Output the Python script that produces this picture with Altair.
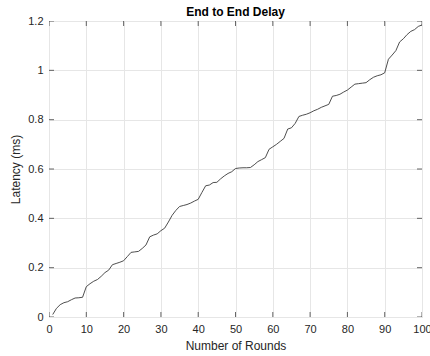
import altair as alt
import pandas as pd

rounds = list(range(1, 101))
latency = [
    0.010, 0.035, 0.050, 0.058, 0.062, 0.070, 0.077, 0.078, 0.080, 0.123,
    0.135, 0.145, 0.152, 0.165, 0.180, 0.190, 0.212, 0.217, 0.222, 0.228,
    0.245, 0.262, 0.264, 0.266, 0.278, 0.292, 0.325, 0.332, 0.337, 0.350,
    0.360, 0.385, 0.412, 0.432, 0.448, 0.452, 0.456, 0.462, 0.470, 0.477,
    0.505, 0.532, 0.535, 0.545, 0.546, 0.560, 0.572, 0.582, 0.589, 0.602,
    0.604, 0.605, 0.605, 0.606, 0.617, 0.630, 0.638, 0.646, 0.680, 0.690,
    0.700, 0.712, 0.724, 0.762, 0.767, 0.785, 0.813, 0.818, 0.822, 0.828,
    0.836, 0.842, 0.850, 0.856, 0.862, 0.895, 0.898, 0.903, 0.912, 0.920,
    0.932, 0.944, 0.946, 0.948, 0.950, 0.962, 0.972, 0.978, 0.982, 0.990,
    1.045, 1.062, 1.080, 1.115, 1.128, 1.145, 1.158, 1.165, 1.178, 1.184,
]
x_ticks = [0, 10, 20, 30, 40, 50, 60, 70, 80, 90, 100]
y_ticks = [0, 0.2, 0.4, 0.6, 0.8, 1.0, 1.2]

df = pd.DataFrame({"round": rounds, "latency": latency})
xt = pd.DataFrame({"x": x_ticks})
yt = pd.DataFrame({"y": y_ticks})

FONT = "Liberation Sans"
TXT = "#262626"

xscale = alt.Scale(domain=[0, 100], nice=False, zero=False)
yscale = alt.Scale(domain=[0, 1.2], nice=False, zero=False)

x_axis = alt.Axis(values=x_ticks, grid=True, gridColor="#e6e6e6", domain=False, ticks=False,
                  labelPadding=6, labelFontSize=11, labelColor=TXT, labelFont=FONT,
                  labelOverlap=False, labelFlush=False, labelBound=False,
                  title="Number of Rounds", titleFont=FONT, titleFontSize=12,
                  titleFontWeight="normal", titleColor=TXT, titlePadding=6)
y_axis = alt.Axis(values=y_ticks, grid=True, gridColor="#e6e6e6", domain=False, ticks=False,
                  labelPadding=6, labelFontSize=11, labelColor=TXT, labelFont=FONT,
                  labelOverlap=False,
                  labelExpr="format(datum.value, '~g')",
                  title="Latency (ms)", titleFont=FONT, titleFontSize=12,
                  titleFontWeight="normal", titleColor=TXT, titlePadding=5)

line = alt.Chart(df).mark_line(color="#3a3a3a", strokeWidth=0.9).encode(
    x=alt.X("round:Q", scale=xscale, axis=x_axis),
    y=alt.Y("latency:Q", scale=yscale, axis=y_axis),
)

bt = alt.Chart(xt).mark_tick(orient="vertical", size=10, thickness=1, color=TXT, clip=True).encode(
    x=alt.X("x:Q", scale=xscale, axis=x_axis), y=alt.datum(0, axis=y_axis))
tt = alt.Chart(xt).mark_tick(orient="vertical", size=10, thickness=1, color=TXT, clip=True).encode(
    x=alt.X("x:Q", scale=xscale, axis=x_axis), y=alt.datum(1.2, axis=y_axis))
lt = alt.Chart(yt).mark_tick(orient="horizontal", size=10, thickness=1, color=TXT, clip=True).encode(
    y=alt.Y("y:Q", scale=yscale, axis=y_axis), x=alt.datum(0, axis=x_axis))
rt = alt.Chart(yt).mark_tick(orient="horizontal", size=10, thickness=1, color=TXT, clip=True).encode(
    y=alt.Y("y:Q", scale=yscale, axis=y_axis), x=alt.datum(100, axis=x_axis))

chart = alt.layer(line, bt, tt, lt, rt).properties(
    width=373, height=296,
    title=alt.TitleParams("End to End Delay", font=FONT, fontSize=12, fontWeight="bold",
                          color="#000000", offset=0, dy=4, anchor="middle"),
    autosize=alt.AutoSizeParams(type="none"),
    padding={"left": 49, "top": 21, "right": 8, "bottom": 39},
).configure_view(stroke=TXT, strokeWidth=1).configure_axisX(
    labelOverlap=False
).configure(background="white")

chart.save("out.html", embed_options={"renderer": "svg", "actions": False})
